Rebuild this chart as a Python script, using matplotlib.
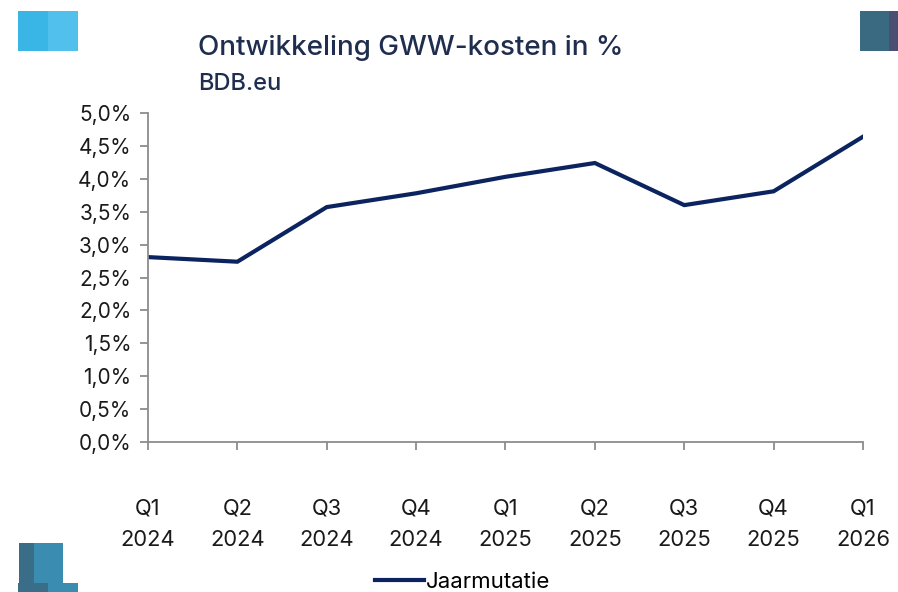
import matplotlib
matplotlib.use('Agg')
import matplotlib.pyplot as plt
from matplotlib.patches import Rectangle
from matplotlib.ticker import MultipleLocator, FuncFormatter

plt.rcParams['font.family'] = ['Inter', 'DejaVu Sans']

# data
kwartalen = ['Q1\n2024', 'Q2\n2024', 'Q3\n2024', 'Q4\n2024', 'Q1\n2025',
             'Q2\n2025', 'Q3\n2025', 'Q4\n2025', 'Q1\n2026']
jaarmutatie = [2.81, 2.74, 3.57, 3.78, 4.03, 4.24, 3.60, 3.81, 4.64]

W, H = 898, 592
fig = plt.figure(figsize=(W / 100, H / 100), dpi=100)
ax = fig.add_axes([148 / W, 1 - 442 / H, (863 - 148) / W, (442 - 113) / H])

x = list(range(len(kwartalen)))
ax.plot(x, jaarmutatie, color='#0B2460', lw=3, solid_joinstyle='miter', label='Jaarmutatie')

ax.set_xlim(0, len(kwartalen) - 1)
ax.set_ylim(0, 5.0)
ax.yaxis.set_major_locator(MultipleLocator(0.5))
ax.yaxis.set_major_formatter(FuncFormatter(lambda v, p: ('%.1f%%' % v).replace('.', ',')))
ax.set_xticks(x)
ax.set_xticklabels(kwartalen, linespacing=1.7)

for s in ['top', 'right']:
    ax.spines[s].set_visible(False)
for s in ['left', 'bottom']:
    ax.spines[s].set_color('#8C8C8C')
    ax.spines[s].set_linewidth(1.3)
ax.tick_params(axis='both', colors='#8C8C8C', width=1.3, length=6, labelsize=15,
               labelcolor='#1A1A1A')
ax.tick_params(axis='x', pad=35, labelsize=15.8)
ax.tick_params(axis='y', pad=6)
ax.set_facecolor('none')

# titel
fig.text(198 / W, 1 - 48 / H, 'Ontwikkeling GWW-kosten in %', fontsize=20,
         color='#1F2D4E', va='center', ha='left', fontweight='medium')
fig.text(198 / W, 1 - 84 / H, 'BDB.eu', fontsize=17, color='#1F2D4E',
         va='center', ha='left', fontweight='medium')

# legenda
leg = fig.legend(loc='center', bbox_to_anchor=(463 / W, 1 - 582 / H), frameon=False,
                 fontsize=16, handlelength=2.2, handletextpad=0.1)

# decoratieve blokjes
def blok(x0, y0, w, h, c):
    fig.patches.append(Rectangle((x0 / W, 1 - (y0 + h) / H), w / W, h / H,
                                 transform=fig.transFigure, color=c, lw=0))

blok(18, 11, 30, 40, '#3AB6E6')
blok(48, 11, 30, 40, '#52C0EC')
blok(860, 11, 29, 40, '#3A6A82')
blok(889, 11, 9, 40, '#4A4E72')
blok(19, 543, 15, 40, '#3A6E88')
blok(34, 543, 29, 40, '#3A8CB0')
blok(18, 583, 30, 9, '#3A6E88')
blok(48, 583, 30, 9, '#3A8CB0')

plt.savefig('out.png', dpi=100)
